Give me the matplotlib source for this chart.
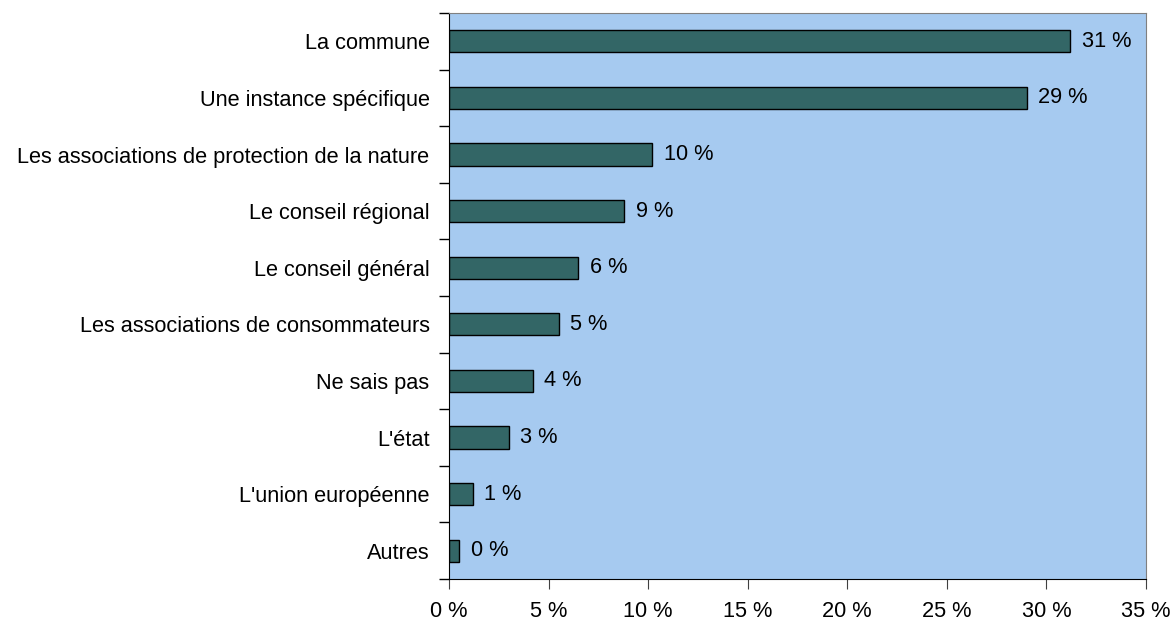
import matplotlib.pyplot as plt
from matplotlib.ticker import FuncFormatter

CATEGORIES = [
    "La commune",
    "Une instance spécifique",
    "Les associations de protection de la nature",
    "Le conseil régional",
    "Le conseil général",
    "Les associations de consommateurs",
    "Ne sais pas",
    "L'état",
    "L'union européenne",
    "Autres",
]
VALUES = [31.2, 29.0, 10.2, 8.8, 6.5, 5.5, 4.2, 3.0, 1.2, 0.5]
LABELS = ["31 %", "29 %", "10 %", "9 %", "6 %", "5 %", "4 %", "3 %", "1 %", "0 %"]

BAR_COLOR = "#336666"
BG_COLOR = "#A6CAF0"
FS = 15.7

plt.rcParams['font.family'] = ['Liberation Sans', 'DejaVu Sans']


def main():
    fig = plt.figure(figsize=(11.76, 6.2), dpi=100)
    ax = fig.add_axes([449 / 1176, 1 - 579 / 620, (1146 - 449) / 1176, (579 - 13) / 620])
    ax.set_facecolor(BG_COLOR)

    n = len(CATEGORIES)
    ypos = list(range(n))[::-1]
    ax.barh(ypos, VALUES, height=0.39, color=BAR_COLOR, edgecolor="black", linewidth=1)

    for y, v, lab in zip(ypos, VALUES, LABELS):
        ax.text(v + 0.58, y, lab, va="center", ha="left", fontsize=FS)

    ax.set_xlim(0, 35)
    ax.set_ylim(-0.5, n - 0.5)
    ax.set_xticks(range(0, 36, 5))
    ax.xaxis.set_major_formatter(FuncFormatter(lambda x, _: f"{int(x)} %"))
    ax.set_yticks(ypos)
    ax.set_yticklabels(CATEGORIES)
    ax.set_yticks([i + 0.5 for i in range(-1, n)], minor=True)
    ax.tick_params(axis="y", which="major", length=0, pad=14, labelsize=FS)
    ax.tick_params(axis="y", which="minor", length=7, direction="out", width=1)
    ax.tick_params(axis="x", length=7, direction="out", labelsize=FS, pad=9,
                   color="#404040")

    ax.spines["top"].set_color("#808080")
    ax.spines["right"].set_color("#808080")
    ax.spines["left"].set_color("black")
    ax.spines["bottom"].set_color("black")

    fig.savefig("out.png", dpi=100)


if __name__ == "__main__":
    main()
